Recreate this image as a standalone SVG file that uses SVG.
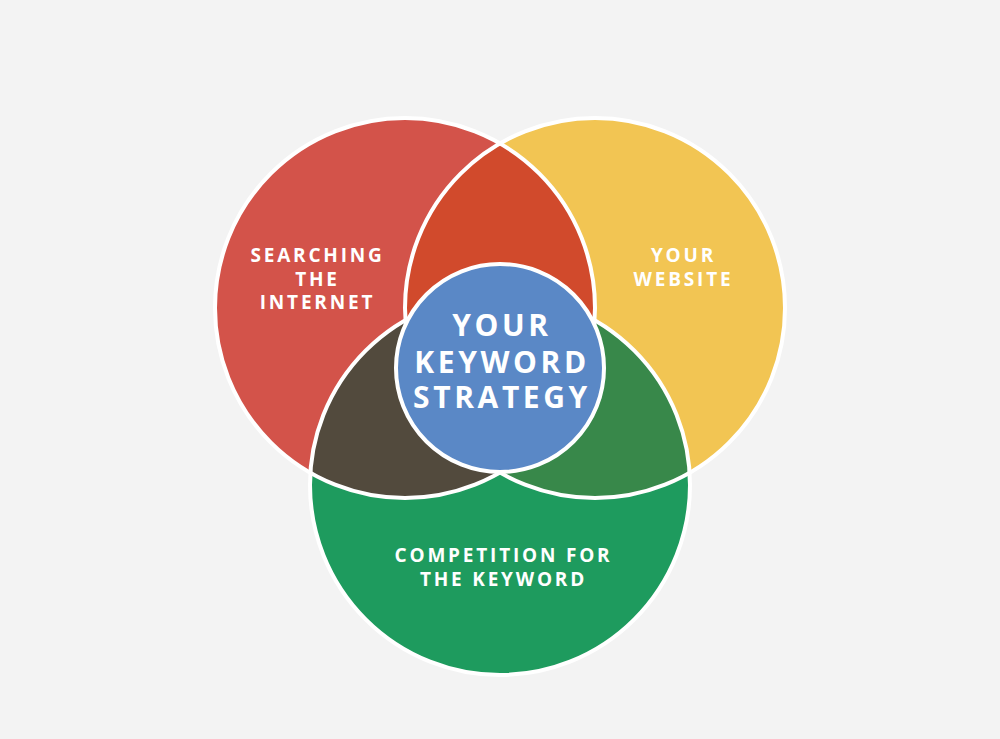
<svg xmlns="http://www.w3.org/2000/svg" width="1000" height="739" viewBox="0 0 1000 739">
<style>
.ol{fill:none;stroke:#fff;stroke-width:4}
.t{font-family:"Open Sans","Liberation Sans",sans-serif;font-weight:700;fill:#fff;text-anchor:middle;font-size:19px;letter-spacing:2.8px}
.tc{font-size:30px;letter-spacing:3.6px}
</style>
<defs>
<clipPath id="cR"><circle cx="405" cy="308" r="190"/></clipPath>
<clipPath id="cY"><circle cx="595" cy="308" r="190"/></clipPath>
</defs>
<rect width="1000" height="739" fill="#F3F3F3"/>
<g id="red">
<circle cx="405" cy="308" r="190" fill="#D3534A"/>
</g>
<g id="yellow">
<circle cx="595" cy="308" r="190" fill="#F2C553"/>
</g>
<g id="green">
<circle cx="500" cy="485" r="190" fill="#1E9B5E"/>
</g>
<g id="lenses">
<circle cx="595" cy="308" r="190" fill="#D14A2C" clip-path="url(#cR)"/>
<circle cx="500" cy="485" r="190" fill="#524A3D" clip-path="url(#cR)"/>
<circle cx="500" cy="485" r="190" fill="#38884A" clip-path="url(#cY)"/>
</g>
<g id="outlines">
<circle class="ol" cx="405" cy="308" r="190"/>
<circle class="ol" cx="595" cy="308" r="190"/>
<circle class="ol" cx="500" cy="485" r="190"/>
</g>
<g id="center">
<circle cx="500" cy="368" r="104" fill="#5A88C6" stroke="#fff" stroke-width="4"/>
<text class="t tc" x="502" y="336">YOUR</text>
<text class="t tc" x="502" y="373">KEYWORD</text>
<text class="t tc" x="502" y="408">STRATEGY</text>
</g>
<g id="label-red">
<text class="t" x="317.5" y="262">SEARCHING</text>
<text class="t" x="317.5" y="286">THE</text>
<text class="t" x="317.5" y="309">INTERNET</text>
</g>
<g id="label-yellow">
<text class="t" x="683.5" y="262">YOUR</text>
<text class="t" x="683.5" y="286">WEBSITE</text>
</g>
<g id="label-green">
<text class="t" x="503.5" y="562">COMPETITION FOR</text>
<text class="t" x="503.5" y="586">THE KEYWORD</text>
</g>
</svg>
